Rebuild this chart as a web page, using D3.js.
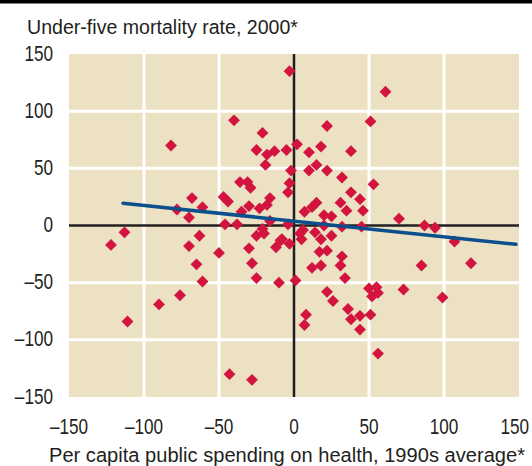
<!DOCTYPE html>
<html>
<head>
<meta charset="utf-8">
<script src="https://cdn.jsdelivr.net/npm/d3@7"></script>
<style>
  html, body { margin: 0; padding: 0; background: #fff; }
  text { font-family: "Liberation Sans Narrow", "Arial Narrow", "Liberation Sans", sans-serif; fill: #231f20; }
</style>
</head>
<body>
<div id="chart"></div>
<script>
(function() {
    // data
    const spendX = [-3, 61, -40, 51, 22, -82, -21, -25, -18, -13, -5, 2, 10, 18, 38,
        -19, -2, 10, 15, 22, 32, 53, -3, -4, -36, -31, -29, -68, -47, -44, -61, -78,
        -30, -23, -16, -18, -70, -35, 38, 44, 31, 15, 35, 46, 7, 20, 25, 70, 12,
        -46, -38, -16, -4, -21, 87, 94, 107, 45, 32, 20, -113, -122, -63, -70, -50,
        -65, -61, -30, -25, -20, -12, -8, -3, -28, -25, -10, 1, 5, 6, 14, 18, 25, 17,
        22, 32, 31, 12, 18, 34, 22, 26, 50, 55, 52, 56, 36, 38, 44, 51, 44, 8, 7,
        85, 118, 73, 99, 56, -76, -90, -111, -43, -28, -9, 4];
    const mortY = [135, 117, 92, 91, 87, 70, 81, 66, 62, 65, 66, 71, 64, 69, 65,
        53, 48, 48, 53, 48, 42, 36, 37, 29, 38, 38, 33, 24, 25, 21, 16, 14,
        17, 15, 24, 18, 7, 12, 29, 23, 20, 20, 13, 13, 12, 9, 8, 6, 16,
        1, 1, 4, 1, -3, 0, -2, -14, -1, -1, 0, -6, -17, -9, -18, -24,
        -34, -49, -20, -9, -7, -19, -12, -16, -33, -46, -50, -48, -12, -4, -6, -12, -9, -23,
        -22, -27, -35, -37, -35, -46, -58, -66, -55, -54, -62, -59, -73, -82, -79, -78, -91, -78, -87,
        -35, -33, -56, -63, -112, -61, -69, -84, -130, -135, -13, -7];

    // regression line end points
    const fitX = [-114, 148];
    const fitY = [19.5, -16.5];

    const xTicks = [-150, -100, -50, 0, 50, 100, 150];
    const yTicks = [150, 100, 50, 0, -50, -100, -150];
    const gridVals = [-100, -50, 50, 100];

    const yTitle = "Under-five mortality rate, 2000*";
    const xTitle = "Per capita public spending on health, 1990s average*";

    const width = 532;
    const height = 466;
    const plot = { left: 69, right: 519, top: 54, bottom: 397 };

    const svg = d3.select("#chart").append("svg")
        .attr("width", width)
        .attr("height", height);

    const x = d3.scaleLinear().domain([-150, 150]).range([plot.left, plot.right]);
    const y = d3.scaleLinear().domain([-150, 150]).range([plot.bottom, plot.top]);

    // black rule across the top
    svg.append("rect")
        .attr("x", 0).attr("y", 0)
        .attr("width", width).attr("height", 3.5)
        .attr("fill", "#000");

    // beige plot area
    svg.append("rect")
        .attr("x", plot.left).attr("y", plot.top)
        .attr("width", plot.right - plot.left)
        .attr("height", plot.bottom - plot.top)
        .attr("fill", "#ece1c3");

    // white grid
    const grid = svg.append("g").attr("stroke", "#fff").attr("stroke-width", 3);
    grid.selectAll(".gx").data(gridVals).join("line")
        .attr("x1", d => x(d)).attr("x2", d => x(d))
        .attr("y1", plot.top).attr("y2", plot.bottom);
    grid.selectAll(".gy").data(gridVals).join("line")
        .attr("x1", plot.left).attr("x2", plot.right)
        .attr("y1", d => y(d)).attr("y2", d => y(d));

    // zero axes
    svg.append("line")
        .attr("x1", x(0)).attr("x2", x(0))
        .attr("y1", plot.top).attr("y2", plot.bottom)
        .attr("stroke", "#231f20").attr("stroke-width", 2.5);
    svg.append("line")
        .attr("x1", plot.left).attr("x2", plot.right)
        .attr("y1", y(0)).attr("y2", y(0))
        .attr("stroke", "#231f20").attr("stroke-width", 2.5);

    // points
    const diamond = d3.symbol().type(d3.symbolSquare).size(70);
    svg.append("g").selectAll("path")
        .data(spendX.map((v, i) => [v, mortY[i]]))
        .join("path")
        .attr("d", diamond)
        .attr("transform", d => `translate(${x(d[0])},${y(d[1])}) rotate(45)`)
        .attr("fill", "#d2143f");

    // fitted line
    svg.append("path")
        .datum(fitX.map((v, i) => [v, fitY[i]]))
        .attr("d", d3.line().x(d => x(d[0])).y(d => y(d[1])))
        .attr("fill", "none")
        .attr("stroke", "#0b4f8c")
        .attr("stroke-width", 3.5)
        .attr("stroke-linecap", "round");

    const fmt = v => v < 0 ? "\u2013" + Math.abs(v) : String(v);
    const squeeze = 0.78; // condensed look for the tick labels

    // y tick labels
    svg.append("g").selectAll("text")
        .data(yTicks).join("text")
        .attr("transform", d => `translate(53,${y(d) + 6.5}) scale(${squeeze},1)`)
        .attr("text-anchor", "end")
        .style("font-size", "22px")
        .text(fmt);

    // x tick labels
    svg.append("g").selectAll("text")
        .data(xTicks).join("text")
        .attr("transform", d => `translate(${d === 150 ? 529 : x(d)},434) scale(${squeeze},1)`)
        .attr("text-anchor", d => d === 150 ? "end" : "middle")
        .style("font-size", "22px")
        .text(fmt);

    // titles
    svg.append("text")
        .attr("x", 27).attr("y", 34)
        .attr("textLength", 271)
        .attr("lengthAdjust", "spacingAndGlyphs")
        .style("font-size", "20px")
        .text(yTitle);

    svg.append("text")
        .attr("x", 49).attr("y", 462)
        .attr("textLength", 476)
        .attr("lengthAdjust", "spacingAndGlyphs")
        .style("font-size", "19.5px")
        .text(xTitle);
})();
</script>
</body>
</html>
